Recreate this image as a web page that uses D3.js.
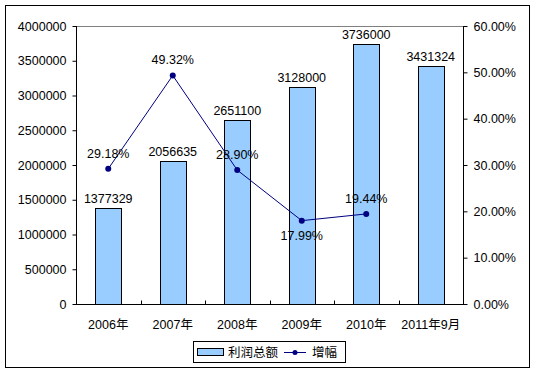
<!DOCTYPE html>
<html>
<head>
<meta charset="utf-8">
<script src="https://cdn.jsdelivr.net/npm/d3@7"></script>
<style>
  body { margin: 0; background: #fff; }
  text { font-family: "Liberation Sans", Arial, "Noto Sans CJK SC", sans-serif; font-size: 12.5px; fill: #000; }
</style>
</head>
<body>
<div id="chart"></div>
<script>
// data
const years = ['2006年', '2007年', '2008年', '2009年', '2010年', '2011年9月'];
const profit = [1377329, 2056635, 2651100, 3128000, 3736000, 3431324];
const growth = [29.18, 49.32, 28.90, 17.99, 19.44];
// label under the point instead of over it
const growthBelow = [false, false, false, true, false];
const leftTicks = [0, 500000, 1000000, 1500000, 2000000, 2500000, 3000000, 3500000, 4000000];
const rightTicks = [0, 10, 20, 30, 40, 50, 60];

const W = 538, H = 374;
const plot = { left: 76, top: 26, right: 463, bottom: 304 };

const svg = d3.select('#chart').append('svg')
  .attr('width', W).attr('height', H);

// outer frame
svg.append('rect')
  .attr('x', 5.5).attr('y', 5.5)
  .attr('width', 524).attr('height', 362)
  .attr('fill', '#fff').attr('stroke', '#000').attr('stroke-width', 1);

const x = d3.scaleBand().domain(years).range([plot.left, plot.right]);
const yL = d3.scaleLinear().domain([0, 4000000]).range([plot.bottom, plot.top]);
const yR = d3.scaleLinear().domain([0, 60]).range([plot.bottom, plot.top]);

// plot area top edge (gray)
svg.append('line')
  .attr('x1', plot.left).attr('x2', plot.right)
  .attr('y1', plot.top + 0.5).attr('y2', plot.top + 0.5)
  .attr('stroke', '#808080');

// bars
const barW = x.bandwidth() * 0.4;
svg.append('g').selectAll('rect')
  .data(profit)
  .join('rect')
  .attr('x', (d, i) => Math.round(x(years[i]) + x.bandwidth() / 2 - barW / 2) + 0.5)
  .attr('y', (d) => Math.round(yL(d)) + 0.5)
  .attr('width', Math.round(barW))
  .attr('height', (d) => Math.round(plot.bottom - yL(d)))
  .attr('fill', '#99CCFF')
  .attr('stroke', '#000');

// bar labels
svg.append('g').selectAll('text')
  .data(profit)
  .join('text')
  .attr('x', (d, i) => x(years[i]) + x.bandwidth() / 2)
  .attr('y', (d) => yL(d) - 5)
  .attr('text-anchor', 'middle')
  .text((d) => d);

// left axis
const axisL = svg.append('g')
  .attr('transform', `translate(${plot.left + 0.5},0)`)
  .call(d3.axisLeft(yL).tickValues(leftTicks).tickSize(4).tickPadding(6).tickFormat(d3.format('d')));
axisL.selectAll('path, line').attr('stroke', '#000');
axisL.selectAll('text').style('font-size', '12.5px').attr('fill', '#000');
axisL.select('.domain').attr('d', `M0,${plot.top}V${plot.bottom}`);

// right axis
const axisR = svg.append('g')
  .attr('transform', `translate(${plot.right + 0.5},0)`)
  .call(d3.axisRight(yR).tickValues(rightTicks).tickSize(4).tickPadding(6).tickFormat((d) => d.toFixed(2) + '%'));
axisR.selectAll('path, line').attr('stroke', '#000');
axisR.selectAll('text').style('font-size', '12.5px').attr('fill', '#000');
axisR.select('.domain').attr('d', `M0,${plot.top}V${plot.bottom}`);

// bottom axis
const axisB = svg.append('g')
  .attr('transform', `translate(0,${plot.bottom + 0.5})`);
axisB.append('line')
  .attr('x1', plot.left).attr('x2', plot.right + 1)
  .attr('stroke', '#000');
axisB.selectAll('.tick')
  .data(years.slice(1))
  .join('line')
  .attr('x1', (d) => Math.round(x(d)) + 0.5)
  .attr('x2', (d) => Math.round(x(d)) + 0.5)
  .attr('y1', 0).attr('y2', -4)
  .attr('stroke', '#000');
axisB.selectAll('text')
  .data(years)
  .join('text')
  .attr('x', (d) => x(d) + x.bandwidth() / 2)
  .attr('y', 24)
  .attr('text-anchor', 'middle')
  .text((d) => d);

// growth line
const pts = growth.map((g, i) => [x(years[i]) + x.bandwidth() / 2, yR(g)]);
svg.append('path')
  .attr('d', d3.line()(pts))
  .attr('fill', 'none')
  .attr('stroke', '#000080')
  .attr('stroke-width', 1);
svg.append('g').selectAll('circle')
  .data(pts)
  .join('circle')
  .attr('cx', (d) => d[0]).attr('cy', (d) => d[1])
  .attr('r', 3)
  .attr('fill', '#000080');
svg.append('g').selectAll('text')
  .data(growth)
  .join('text')
  .attr('x', (d, i) => pts[i][0])
  .attr('y', (d, i) => growthBelow[i] ? pts[i][1] + 19 : pts[i][1] - 11)
  .attr('text-anchor', 'middle')
  .text((d) => d.toFixed(2) + '%');

// legend
const lg = svg.append('g');
lg.append('rect')
  .attr('x', 193.5).attr('y', 341.5)
  .attr('width', 152).attr('height', 21)
  .attr('fill', '#fff').attr('stroke', '#000');
lg.append('rect')
  .attr('x', 197.5).attr('y', 348.5)
  .attr('width', 26).attr('height', 7)
  .attr('fill', '#99CCFF').attr('stroke', '#000');
lg.append('text').attr('x', 228).attr('y', 357).text('利润总额');
lg.append('line')
  .attr('x1', 284).attr('x2', 306)
  .attr('y1', 352.5).attr('y2', 352.5)
  .attr('stroke', '#000080');
lg.append('circle').attr('cx', 295).attr('cy', 352.5).attr('r', 2.5).attr('fill', '#000080');
lg.append('text').attr('x', 312).attr('y', 357).text('增幅');
</script>
</body>
</html>
